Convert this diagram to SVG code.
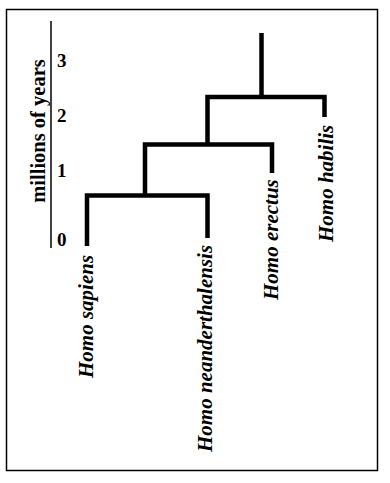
<svg xmlns="http://www.w3.org/2000/svg" width="390" height="483" viewBox="0 0 390 483">
<style>
.lbl{font-family:"Liberation Serif","Times New Roman",serif;font-weight:bold;font-style:italic;font-size:21px;fill:#000}
.ax{font-family:"Liberation Serif","Times New Roman",serif;font-weight:bold;fill:#000}
.br{fill:none;stroke:#000;stroke-width:4.5;stroke-linejoin:miter;stroke-linecap:butt}
</style>
<rect x="0" y="0" width="390" height="483" fill="#fff"/>
<rect id="frame" x="6.5" y="9.5" width="371" height="461" fill="none" stroke="#000" stroke-width="1.5"/>
<g id="axis">
<line x1="51" y1="21" x2="51" y2="248" stroke="#000" stroke-width="1.5"/>
<text class="ax" font-size="20.5" text-anchor="middle" transform="translate(45,131) rotate(-90)">millions of years</text>
<text class="ax" font-size="19" x="57" y="66.5">3</text>
<text class="ax" font-size="19" x="57" y="121.5">2</text>
<text class="ax" font-size="19" x="57" y="176.5">1</text>
<text class="ax" font-size="19" x="57" y="246">0</text>
</g>
<g id="connectors">
<path class="br" d="M261.5,33 V97"/>
<path class="br" d="M207.5,144.5 V97 H324.5 V117"/>
<path class="br" d="M145,195.5 V144.5 H272 V173"/>
<path class="br" d="M87,246 V195.5 H207.5 V238"/>
</g>
<g id="homo-sapiens"><text class="lbl" transform="translate(92.5,378) rotate(-90)">Homo sapiens</text></g>
<g id="homo-neanderthalensis"><text class="lbl" transform="translate(211.5,452) rotate(-90)">Homo neanderthalensis</text></g>
<g id="homo-erectus"><text class="lbl" transform="translate(277.5,300) rotate(-90)">Homo erectus</text></g>
<g id="homo-habilis"><text class="lbl" transform="translate(332.5,242) rotate(-90)">Homo habilis</text></g>
</svg>
